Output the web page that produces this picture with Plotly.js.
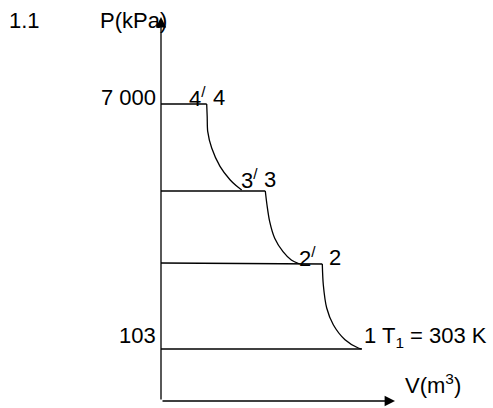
<!DOCTYPE html>
<html>
<head>
<meta charset="utf-8">
<script src="https://cdn.plot.ly/plotly-3.0.1.min.js"></script>
<style>html,body{margin:0;padding:0;background:#fff;}#chart{width:493px;height:408px;}</style>
</head>
<body>
<div id="chart"></div>
<script>
// Schematic P-V diagram (diagram units; y axis reversed so larger P is higher on screen)
const originV = 161, originP = 401;
const axisTopP = 17, axisRightV = 395;

// Isobar levels (P) and the volumes where the isobars end
const isobarP_left  = [104, 191, 263, 349];
const isobarP_right = [104, 191, 264, 349];
const isobarV_end   = [206.7, 265.3, 322.3, 361.7];

// Compression curves
const curve43V = [206.7, 207.2, 207.7, 211.7, 220, 230, 236, 241.7];
const curve43P = [104, 117, 131.3, 148, 166.3, 179.7, 185.5, 190];
const curve32V = [265.3, 267, 269.7, 274.7, 283, 291.3, 299.7];
const curve32P = [191, 205, 221.7, 238.3, 251.7, 260, 264];
const curve21V = [322.3, 323.3, 326.7, 333.3, 345, 358.3, 361.7];
const curve21P = [264, 284.7, 308, 324.7, 339.7, 348, 349];

// Labels
const tickLabels = ['7 000', '103'];
const tickLabelP = [97, 335];
const stateLabels = ['4<sup>/</sup>', '4', '3<sup>/</sup>', '3', '2<sup>/</sup>', '2', '1 T<sub>1</sub> = 303 K'];
const stateLabelV = [187, 211, 239, 262, 297, 327, 362];
const stateLabelP = [97, 97, 179, 179, 257, 257, 337];

const lineStyle = {color: '#000', width: 1.3};
const traces = [];
for (let i = 0; i < isobarP_left.length; i++) {
  traces.push({x: [originV, isobarV_end[i]], y: [isobarP_left[i], isobarP_right[i]],
    mode: 'lines', line: lineStyle, hoverinfo: 'skip'});
}
[[curve43V, curve43P], [curve32V, curve32P], [curve21V, curve21P]].forEach(([v, p]) => {
  traces.push({x: v, y: p, mode: 'lines', line: Object.assign({shape: 'spline', smoothing: 0.8}, lineStyle), hoverinfo: 'skip'});
});

const font = {family: 'Liberation Sans, Arial, sans-serif', size: 22, color: '#000'};
const ann = [];
ann.push({x: 7, y: 20, text: '1.1', showarrow: false, xanchor: 'left', yanchor: 'middle', font});
ann.push({x: 98, y: 20, text: 'P(kPa)', showarrow: false, xanchor: 'left', yanchor: 'middle', font});
ann.push({x: 403, y: 384, text: 'V(m<sup>3</sup>)', showarrow: false, xanchor: 'left', yanchor: 'middle', font});
for (let i = 0; i < tickLabels.length; i++) {
  ann.push({x: 158, y: tickLabelP[i], text: tickLabels[i], showarrow: false, xanchor: 'right', yanchor: 'middle', font});
}
for (let i = 0; i < stateLabels.length; i++) {
  ann.push({x: stateLabelV[i], y: stateLabelP[i], text: stateLabels[i], showarrow: false, xanchor: 'left', yanchor: 'middle', font});
}
// Axes with arrowheads
ann.push({x: originV, y: axisTopP, ax: originV, ay: originP, xref: 'x', yref: 'y', axref: 'x', ayref: 'y',
  showarrow: true, arrowhead: 2, arrowsize: 1.6, arrowwidth: 1.3, arrowcolor: '#000', standoff: 0, text: ''});
ann.push({x: axisRightV, y: originP, ax: originV, ay: originP, xref: 'x', yref: 'y', axref: 'x', ayref: 'y',
  showarrow: true, arrowhead: 2, arrowsize: 1.6, arrowwidth: 1.3, arrowcolor: '#000', standoff: 0, text: ''});

const layout = {
  width: 493, height: 408,
  margin: {l: 0, r: 0, t: 0, b: 0, pad: 0},
  paper_bgcolor: '#fff', plot_bgcolor: '#fff',
  showlegend: false,
  xaxis: {range: [0, 493], visible: false, fixedrange: true},
  yaxis: {range: [408, 0], visible: false, fixedrange: true},
  annotations: ann
};
Plotly.newPlot('chart', traces, layout, {staticPlot: true, displayModeBar: false});
</script>
</body>
</html>
